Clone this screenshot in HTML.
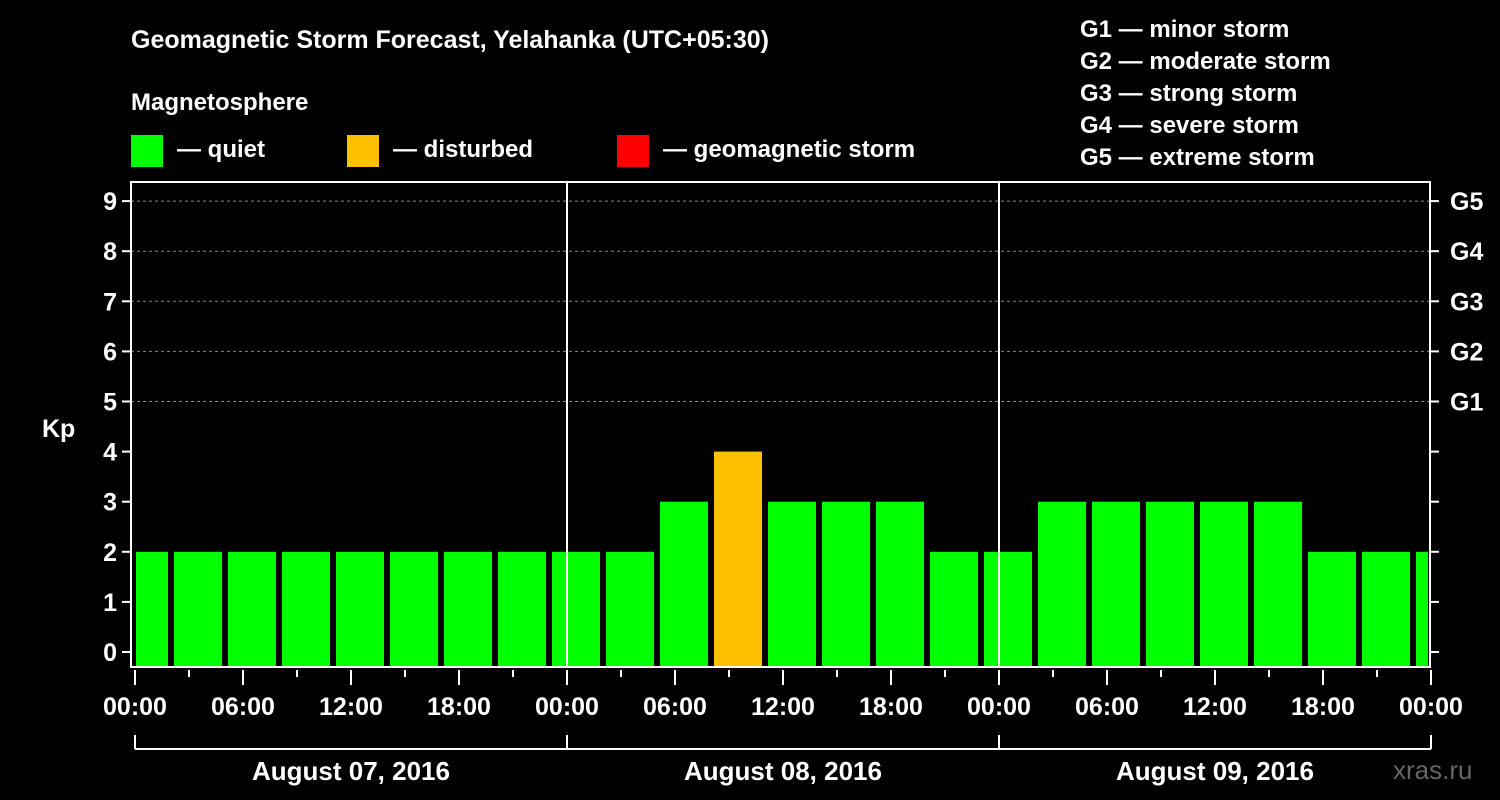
<!DOCTYPE html>
<html><head><meta charset="utf-8"><style>
body{margin:0;background:#000;}
svg{display:block;font-family:"Liberation Sans",Arial,sans-serif;font-weight:bold;}
</style></head><body>
<svg id="c" width="1500" height="800" viewBox="0 0 1500 800">
<rect width="1500" height="800" fill="#000"/>
<text x="131" y="48" fill="#fff" font-size="25">Geomagnetic Storm Forecast, Yelahanka (UTC+05:30)</text>
<text x="131" y="110" fill="#fff" font-size="24">Magnetosphere</text>
<g><rect x="131" y="135" width="32" height="32" fill="#00ff00"/><text x="177" y="157" fill="#fff" font-size="24">— quiet</text></g>
<g><rect x="347" y="135" width="32" height="32" fill="#ffc000"/><text x="393" y="157" fill="#fff" font-size="24">— disturbed</text></g>
<g><rect x="617" y="135" width="32" height="32" fill="#ff0000"/><text x="663" y="157" fill="#fff" font-size="24">— geomagnetic storm</text></g>
<g fill="#fff" font-size="24">
<text x="1080" y="37">G1 — minor storm</text>
<text x="1080" y="69">G2 — moderate storm</text>
<text x="1080" y="101">G3 — strong storm</text>
<text x="1080" y="133">G4 — severe storm</text>
<text x="1080" y="165">G5 — extreme storm</text>
</g>
<text x="42" y="437" fill="#fff" font-size="25">Kp</text>
<text x="1393" y="779" fill="#666" font-size="26" font-weight="normal">xras.ru</text>
<g id="grid"></g><g id="bars"></g><g id="axes"></g>
</svg>
<script>
const kpValues=[2,2,2,2,2,2,2,2,2,2,3,4,3,3,3,2,2,3,3,3,3,3,2,2,2];
const yTicks=[0,1,2,3,4,5,6,7,8,9];
const gLabels=["G1","G2","G3","G4","G5"];
const hourLabels=["00:00","06:00","12:00","18:00"];
const dayLabels=["August 07, 2016","August 08, 2016","August 09, 2016"];
const NS="http://www.w3.org/2000/svg";
const X0=135,PXH=18,L=131,R=1430,T=182,B=667;
const y=v=>652-v*50.1;
const x=h=>X0+h*PXH;
function mk(t,a,p,txt){const e=document.createElementNS(NS,t);for(const k in a)e.setAttribute(k,a[k]);if(txt!==undefined)e.textContent=txt;p.appendChild(e);return e;}
const grid=document.getElementById('grid'),bars=document.getElementById('bars'),axes=document.getElementById('axes');
yTicks.forEach(v=>{
 if(v>=5){const l=mk('line',{x1:L,x2:R,y1:y(v),y2:y(v),stroke:'#888','stroke-dasharray':'3,3','stroke-width':1},grid);
 
 }
 mk('line',{x1:L-9,x2:L,y1:y(v),y2:y(v),stroke:'#fff','stroke-width':2},axes);
 mk('line',{x1:R,x2:R+9,y1:y(v),y2:y(v),stroke:'#fff','stroke-width':2},axes);
 const t=mk('text',{x:L-14,y:y(v)+9,fill:'#fff','font-size':25,'text-anchor':'end'},axes,String(v));
 
 
});
gLabels.forEach((g,i)=>{const t=mk('text',{x:1450,y:y(5+i)+9,fill:'#fff','font-size':25},axes,g);
 
 });
kpValues.forEach((v,i)=>{
 let a=x(-1+3*i)+3,b=x(2+3*i)-3;a=Math.max(a,L+5);b=Math.min(b,R-2);
 const col=v>=5?'#ff0000':(v>=4?'#ffc000':'#00ff00');
 const r=mk('rect',{x:a,y:y(v),width:b-a,height:B-y(v),fill:col},bars);
 
 
});
[1,2].forEach(d=>mk('line',{x1:x(24*d),x2:x(24*d),y1:T,y2:B,stroke:'#fff','stroke-width':2},axes));
mk('rect',{x:L,y:T,width:R-L,height:B-T,fill:'none',stroke:'#fff','stroke-width':2},axes);
for(let h=0;h<=72;h+=3){const maj=h%6==0;mk('line',{x1:x(h),x2:x(h),y1:B+3,y2:B+(maj?18:10),stroke:'#fff','stroke-width':2},axes);
 if(maj){const t=mk('text',{x:x(h),y:715,fill:'#fff','font-size':25,'text-anchor':'middle'},axes,hourLabels[(h/6)%4]);
 
 }}
mk('line',{x1:x(0),x2:x(72),y1:749,y2:749,stroke:'#fff','stroke-width':2},axes);
for(let d=0;d<=3;d++)mk('line',{x1:x(24*d),x2:x(24*d),y1:735,y2:749,stroke:'#fff','stroke-width':2},axes);
dayLabels.forEach((s,d)=>{const t=mk('text',{x:x(24*d+12),y:780,fill:'#fff','font-size':26,'text-anchor':'middle'},axes,s);
 
 });
</script>
</body></html>
